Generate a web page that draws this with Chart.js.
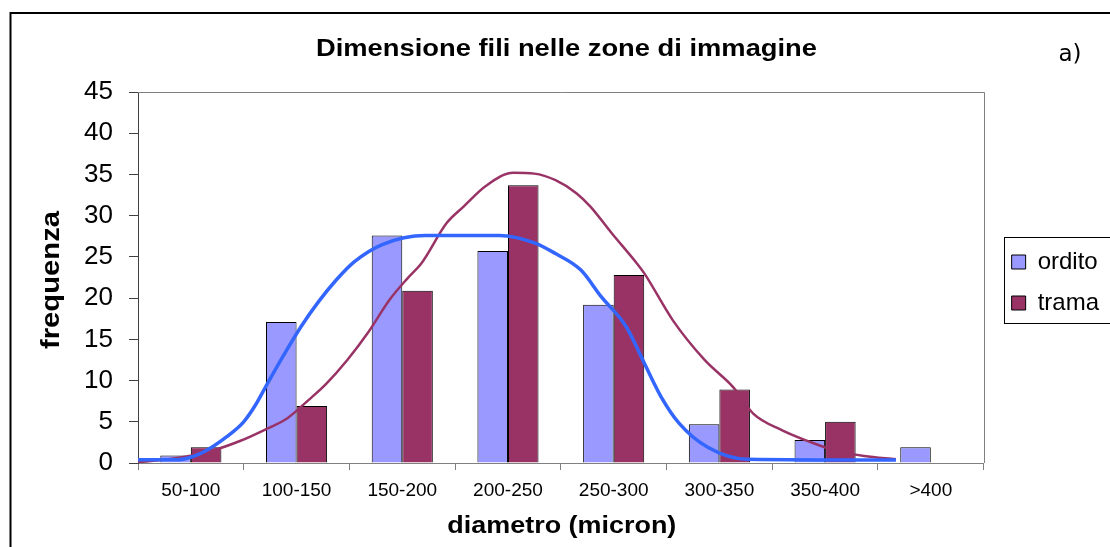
<!DOCTYPE html>
<html>
<head>
<meta charset="utf-8">
<script src="https://cdn.jsdelivr.net/npm/chart.js@4/dist/chart.umd.min.js"></script>
<style>
html,body{margin:0;padding:0;background:#fff;overflow:hidden;}
#wrap{position:absolute;left:0;top:0;width:1140px;height:547px;}
</style>
</head>
<body>
<div id="wrap"><canvas id="c" width="1140" height="547"></canvas></div>
<script>
// ---- data ----
const categories = ['50-100','100-150','150-200','200-250','250-300','300-350','350-400','>400'];
const orditoValues = [0.9, 17.1, 27.6, 25.7, 19.2, 4.7, 2.8, 1.9];
const tramaValues  = [1.9, 6.9, 20.9, 33.7, 22.8, 8.9, 5.0, 0];
const yTicks = [0,5,10,15,20,25,30,35,40,45];

// fitted curves (x in category units, centre of first category = 0)
const orditoCurveX = [-0.5,-0.13,0.0,0.13,0.34,0.5,0.61,0.71,0.87,1.04,1.21,1.375,1.545,1.81,2.22,2.92,3.25,3.45,3.69,3.88,4.12,4.29,4.45,4.62,4.89,5.26,6.67];
const orditoCurveY = [0.4,0.4,0.7,1.4,3.2,5.0,7.0,9.3,12.9,16.5,19.6,22.2,24.4,26.5,27.6,27.6,26.7,25.4,23.4,20.2,16.5,12.1,8.0,4.8,1.9,0.45,0.35];
const tramaCurveX = [-0.5,-0.13,0.2,0.47,0.71,0.91,1.11,1.28,1.48,1.68,1.88,2.05,2.18,2.42,2.58,2.79,3.05,3.25,3.45,3.65,3.78,3.98,4.22,4.29,4.56,4.86,5.13,5.32,5.59,5.86,6.10,6.37,6.67];
const tramaCurveY = [0.1,0.6,1.5,2.7,4.1,5.4,7.6,9.6,12.5,15.9,19.8,22.4,24.2,29.1,31.1,33.6,35.2,35.1,34.3,32.7,31.1,27.9,24.2,23.0,17.3,12.5,9.2,6.0,4.0,2.55,1.5,0.85,0.45];

const chartTitle = 'Dimensione fili nelle zone di immagine';
const panelLabel = 'a)';
const xTitle = 'diametro (micron)';
const yTitle = 'frequenza';
const seriesNames = ['ordito','trama'];

// ---- chart ----
Chart.defaults.font.family = "'Liberation Sans', Arial, sans-serif";
Chart.defaults.color = '#000';

function toPoints(xs, ys){ return xs.map((x,i)=>({x:x, y:ys[i]})); }
function categoryPoints(vals){ return vals.map((v,i)=>({x:i, y:v})); }

function stretchedText(ctx, text, cx, cy, font, targetWidth, rotate){
  ctx.save();
  ctx.font = font;
  const w = ctx.measureText(text).width;
  const s = targetWidth / w;
  ctx.translate(cx, cy);
  if (rotate) ctx.rotate(-Math.PI/2);
  ctx.scale(s, 1);
  ctx.textAlign = 'center';
  ctx.textBaseline = 'middle';
  ctx.fillStyle = '#000';
  ctx.fillText(text, 0, 0);
  ctx.restore();
}

const decor = {
  id: 'decor',
  beforeDraw(chart){
    const ctx = chart.ctx;
    ctx.save();
    ctx.fillStyle = '#fff';
    ctx.fillRect(0,0,chart.width,chart.height);
    ctx.strokeStyle = '#000';
    ctx.lineWidth = 2;
    ctx.strokeRect(10.5, 13, chart.width + 50, chart.height + 50);
    ctx.restore();
  },
  afterLayout(chart){
    const lg = chart.legend;
    const ca = chart.chartArea;
    const w = lg.right - lg.left;
    lg.left = ca.right + 11;
    lg.right = lg.left + w + 40;
    lg.top = 233;
    lg.bottom = lg.top + 130;
  },
  afterDraw(chart){
    const ctx = chart.ctx;
    const ca = chart.chartArea;
    const lg = chart.legend;
    ctx.save();
    // plot frame (top & right)
    ctx.strokeStyle = '#808080';
    ctx.lineWidth = 1;
    ctx.beginPath();
    ctx.moveTo(ca.left, Math.round(ca.top)+0.5);
    ctx.lineTo(Math.round(ca.right)+0.5, Math.round(ca.top)+0.5);
    ctx.lineTo(Math.round(ca.right)+0.5, ca.bottom);
    ctx.stroke();
    // legend border
    ctx.strokeStyle = '#000';
    ctx.lineWidth = 1;
    ctx.strokeRect(Math.round(lg.left + 9)+0.5, Math.round(lg.top + 4)+0.5, 300, 86);
    ctx.restore();
    // texts
    stretchedText(ctx, chartTitle, 566.5, 50, "bold 23px 'Liberation Sans'", 501, false);
    stretchedText(ctx, xTitle, (ca.left+ca.right)/2 + 1, 526, "bold 24px 'Liberation Sans'", 229, false);
    stretchedText(ctx, yTitle, 52, 280, "bold 25px 'Liberation Sans'", 138, true);
    ctx.save();
    ctx.font = "23px 'DejaVu Sans'";
    ctx.fillStyle = '#000';
    ctx.textAlign = 'center';
    ctx.textBaseline = 'middle';
    ctx.fillText(panelLabel, 1070, 55);
    ctx.restore();
  }
};

new Chart(document.getElementById('c'), {
  type: 'bar',
  data: {
    datasets: [
      {label: seriesNames[0], data: categoryPoints(orditoValues), backgroundColor: '#9999FF', borderColor: '#000', borderWidth: 1,
       categoryPercentage: 0.578, barPercentage: 1.0, order: 2},
      {label: seriesNames[1], data: categoryPoints(tramaValues), backgroundColor: '#993366', borderColor: '#000', borderWidth: 1,
       categoryPercentage: 0.578, barPercentage: 1.0, order: 2},
      {type: 'line', label: 'ordito fit', data: toPoints(orditoCurveX, orditoCurveY), borderColor: '#3366FF', borderWidth: 3.5,
       pointRadius: 0, fill: false, cubicInterpolationMode: 'monotone', order: 1},
      {type: 'line', label: 'trama fit', data: toPoints(tramaCurveX, tramaCurveY), borderColor: '#993366', borderWidth: 2.5,
       pointRadius: 0, fill: false, cubicInterpolationMode: 'monotone', order: 1}
    ]
  },
  options: {
    responsive: false,
    animation: false,
    devicePixelRatio: 1,
    events: [],
    layout: {padding: {top: 92, left: 0, right: 42, bottom: 0}},
    scales: {
      x: {
        type: 'linear', min: -0.5, max: 7.5, offset: false,
        afterBuildTicks(s){ s.ticks = categories.map((c, i) => ({value: i})); },
        ticks: {font: {size: 19}, color: '#000', padding: 9, maxRotation: 0, autoSkip: false,
                callback: (v) => categories[v]},
        grid: {drawOnChartArea: false, tickLength: 7, color: '#808080', offset: true},
        border: {color: '#808080'},
        afterFit(s){ s.height = 84; }
      },
      y: {
        min: 0, max: 45,
        afterBuildTicks(s){ s.ticks = yTicks.map(v => ({value: v})); },
        ticks: {font: {size: 26}, color: '#000', padding: 16},
        grid: {drawOnChartArea: false, tickLength: 9, color: '#404040'},
        border: {color: '#404040'},
        afterFit(s){ s.width = 138; }
      }
    },
    plugins: {
      title: {display: false},
      tooltip: {enabled: false},
      legend: {
        position: 'right', fullSize: false, align: 'start',
        labels: {boxWidth: 14, boxHeight: 14, padding: 17, font: {size: 24}, color: '#000',
                 filter: item => item.datasetIndex < 2}
      }
    }
  },
  plugins: [decor]
});
</script>
</body>
</html>
